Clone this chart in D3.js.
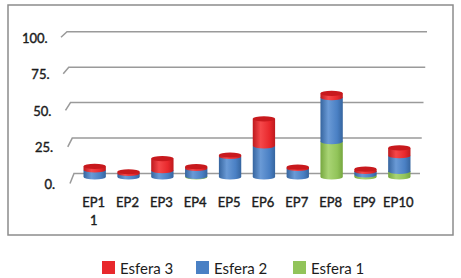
<html>
<head>
    <meta charset="UTF-8" />
    <script src="https://d3js.org/d3.v7.min.js"></script>
    <style>
        body { margin: 0; background: white; }
        text { font-family: Lato, "Open Sans", sans-serif; fill: #1c1c1c; }
        .axislabel { stroke: #1c1c1c; stroke-width: 0.4; }
    </style>
</head>
<body>
<svg id="svg1" width="461" height="278"></svg>
<script>
    // chart data
    const categories = ["EP1 1", "EP2", "EP3", "EP4", "EP5", "EP6", "EP7", "EP8", "EP9", "EP10"];
    const esfera1 = [0, 0, 0, 0.5, 0, 0, 0, 25, 1.5, 4];
    const esfera2 = [5, 2.5, 4.5, 5.5, 14.5, 22, 6, 31, 2.5, 11];
    const esfera3 = [2.5, 1.2, 8.5, 1.3, 1, 19, 1, 3, 1.5, 5.5];
    const seriesNames = ["Esfera 1", "Esfera 2", "Esfera 3"];
    const legendOrder = ["Esfera 3", "Esfera 2", "Esfera 1"];
    const yTicks = [0, 25, 50, 75, 100];

    const colors = {
        "Esfera 1": {mid: "#92c45a", light: "#a9d474", dark: "#76a73f", top: "#a5cf70"},
        "Esfera 2": {mid: "#4a80c4", light: "#6a9ad6", dark: "#36659f", top: "#5b8ccc"},
        "Esfera 3": {mid: "#e8282c", light: "#f5484a", dark: "#be1a1e", top: "#c8191d"}
    };

    const svg = d3.select("#svg1");

    // frame
    svg.append("rect")
        .attr("x", 8).attr("y", 5).attr("width", 445).attr("height", 230)
        .attr("fill", "white").attr("stroke", "#8c8c8c").attr("stroke-width", 1.5);

    // gradients for the cylinders
    const defs = svg.append("defs");
    seriesNames.forEach((s, i) => {
        const g = defs.append("linearGradient").attr("id", "grad" + i)
            .attr("x1", "0%").attr("x2", "100%").attr("y1", "0%").attr("y2", "0%");
        g.append("stop").attr("offset", "0%").attr("stop-color", colors[s].dark);
        g.append("stop").attr("offset", "35%").attr("stop-color", colors[s].light);
        g.append("stop").attr("offset", "75%").attr("stop-color", colors[s].mid);
        g.append("stop").attr("offset", "100%").attr("stop-color", colors[s].dark);
    });

    // scales: back wall (gridlines) and bars in front of it
    const wallY = d3.scaleLinear().domain([0, 100]).range([173.5, 31.7]);
    const barY = d3.scaleLinear().domain([0, 100]).range([177, 35.2]);
    const x = d3.scaleBand().domain(categories).range([72, 422]).padding(0.34);

    // gridlines with the slanted side-wall edge
    const grid = svg.append("g").attr("class", "gridlines")
        .attr("stroke", "#9a9a9a").attr("stroke-width", 1.5).attr("fill", "none");
    grid.selectAll("path").data(yTicks).join("path")
        .attr("d", v => {
            const y = wallY(v);
            const lx = 74 - 0.07 * v, rx = 420 + 0.07 * v;
            return "M" + (70 - 0.09 * v) + "," + (y + 10 - 0.045 * v) + "L" + lx + "," + y + "L" + rx + "," + y;
        });

    svg.append("g").selectAll("text").data(yTicks).join("text")
        .attr("class", "axislabel")
        .attr("x", v => 55 - 0.073 * v)
        .attr("y", v => wallY(v) + 15 - 0.04 * v)
        .attr("text-anchor", "end")
        .attr("font-size", 13)
        .text(v => v + ".");

    // stacked cylinders
    const table = categories.map((c, i) => ({cat: c, "Esfera 1": esfera1[i], "Esfera 2": esfera2[i], "Esfera 3": esfera3[i]}));
    const stacked = d3.stack().keys(seriesNames)(table);
    const rx = x.bandwidth() / 2, ry = 2.6;

    const bars = svg.append("g").attr("class", "bars");
    categories.forEach((c, ci) => {
        const cx = x(c) + rx;
        let topSeg = null;
        stacked.forEach((layer, si) => {
            const d = layer[ci];
            if (d[1] - d[0] <= 0) return;
            const y0 = barY(d[0]), y1 = barY(d[1]);
            bars.append("path")
                .attr("d", "M" + (cx - rx) + "," + y1 + "L" + (cx - rx) + "," + y0 +
                    "A" + rx + "," + ry + " 0 0 0 " + (cx + rx) + "," + y0 +
                    "L" + (cx + rx) + "," + y1 + "Z")
                .attr("fill", "url(#grad" + si + ")");
            topSeg = {y: y1, s: seriesNames[si]};
        });
        if (topSeg) {
            bars.append("ellipse")
                .attr("cx", cx).attr("cy", topSeg.y).attr("rx", rx).attr("ry", ry)
                .attr("fill", colors[topSeg.s].top);
        }
    });

    // category labels (wrap on spaces)
    const xl = svg.append("g").selectAll("text").data(categories).join("text")
        .attr("class", "axislabel")
        .attr("x", c => x(c) + rx - 1)
        .attr("y", 206.5)
        .attr("text-anchor", "middle")
        .attr("font-size", 13);
    xl.selectAll("tspan").data(c => c.split(" ").map(w => ({w: w, cx: x(c) + rx - 1})))
        .join("tspan")
        .attr("x", d => d.cx)
        .attr("dy", (d, i) => i === 0 ? 0 : 18.5)
        .text(d => d.w);

    // legend
    const legendX = [102, 196, 293];
    const lg = svg.append("g").selectAll("g").data(legendOrder).join("g")
        .attr("transform", (d, i) => "translate(" + legendX[i] + ",261)");
    lg.append("rect").attr("width", 13).attr("height", 13)
        .attr("fill", d => colors[d].mid);
    lg.append("text").attr("x", 18).attr("y", 12.5)
        .attr("font-size", 15)
        .text(d => d);
</script>
</body>
</html>
